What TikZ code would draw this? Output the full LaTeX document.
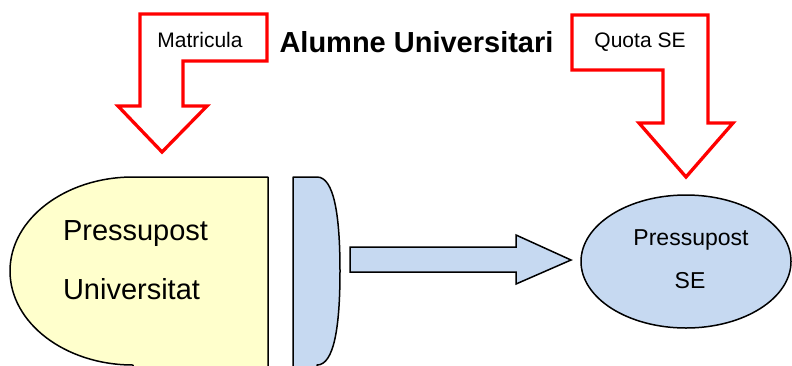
\documentclass[tikz,border=0pt]{standalone}
\usepackage{fontspec}
\setmainfont{Liberation Sans}
\definecolor{redline}{RGB}{255,0,0}
\definecolor{paleyellow}{RGB}{255,255,204}
\definecolor{paleblue}{RGB}{198,217,241}
\begin{document}
\begin{tikzpicture}[x=1pt,y=-1pt,
  redarrow/.style={draw=redline,line width=3.3pt,fill=white,line join=miter},
  blackshape/.style={draw=black,line width=1.5pt,line join=round},
  txt/.style={inner sep=0pt,outer sep=0pt,text=black}]
\useasboundingbox (0,0) rectangle (792,365);
\clip (0,0) rectangle (792,365);
% left red arrow (Matricula)
\draw[redarrow] (140,14) -- (267,14) -- (267,61) -- (183,61) -- (183,106) -- (207,106)
  -- (162,152) -- (118,106) -- (140,106) -- cycle;
% right red arrow (Quota SE)
\draw[redarrow] (572,15) -- (708,15) -- (708,123) -- (733,123) -- (686,177) -- (639,123)
  -- (663,123) -- (663,70) -- (572,70) -- cycle;
% yellow D shape
\draw[blackshape,fill=paleyellow] (268,177) -- (133,177)
  arc[start angle=90,end angle=270,x radius=123,y radius=-94] -- (133,370) -- (268,370) -- cycle;
% blue D shape
\draw[blackshape,fill=paleblue] (293,177) -- (317,177)
  .. controls (334,177) and (340,215) .. (340,271)
  .. controls (340,327) and (334,365) .. (317,365) -- (317,370) -- (293,370) -- cycle;
% block arrow
\draw[blackshape,line join=miter,fill=paleblue] (350,247) -- (516,247) -- (516,235) -- (571,260)
  -- (516,284) -- (516,272) -- (350,272) -- cycle;
% ellipse
\draw[blackshape,fill=paleblue] (686,261.5) ellipse[x radius=105,y radius=66.5];
% texts
\node[txt,anchor=base] (title) at (416.5,52) {\fontsize{29}{34}\selectfont\bfseries Alumne Universitari};
\node[txt,anchor=base] (matricula) at (200,47) {\fontsize{21}{25}\selectfont Matricula};
\node[txt,anchor=base] (quota) at (640,47) {\fontsize{21}{25}\selectfont Quota SE};
\node[txt,anchor=base west] (pu1) at (63,240) {\fontsize{29}{34}\selectfont Pressupost};
\node[txt,anchor=base west] (pu2) at (63,299) {\fontsize{29}{34}\selectfont Universitat};
\node[txt,anchor=base] (pse1) at (691,245) {\fontsize{23}{28}\selectfont Pressupost};
\node[txt,anchor=base] (pse2) at (690,288) {\fontsize{23}{28}\selectfont SE};
\end{tikzpicture}
\end{document}
